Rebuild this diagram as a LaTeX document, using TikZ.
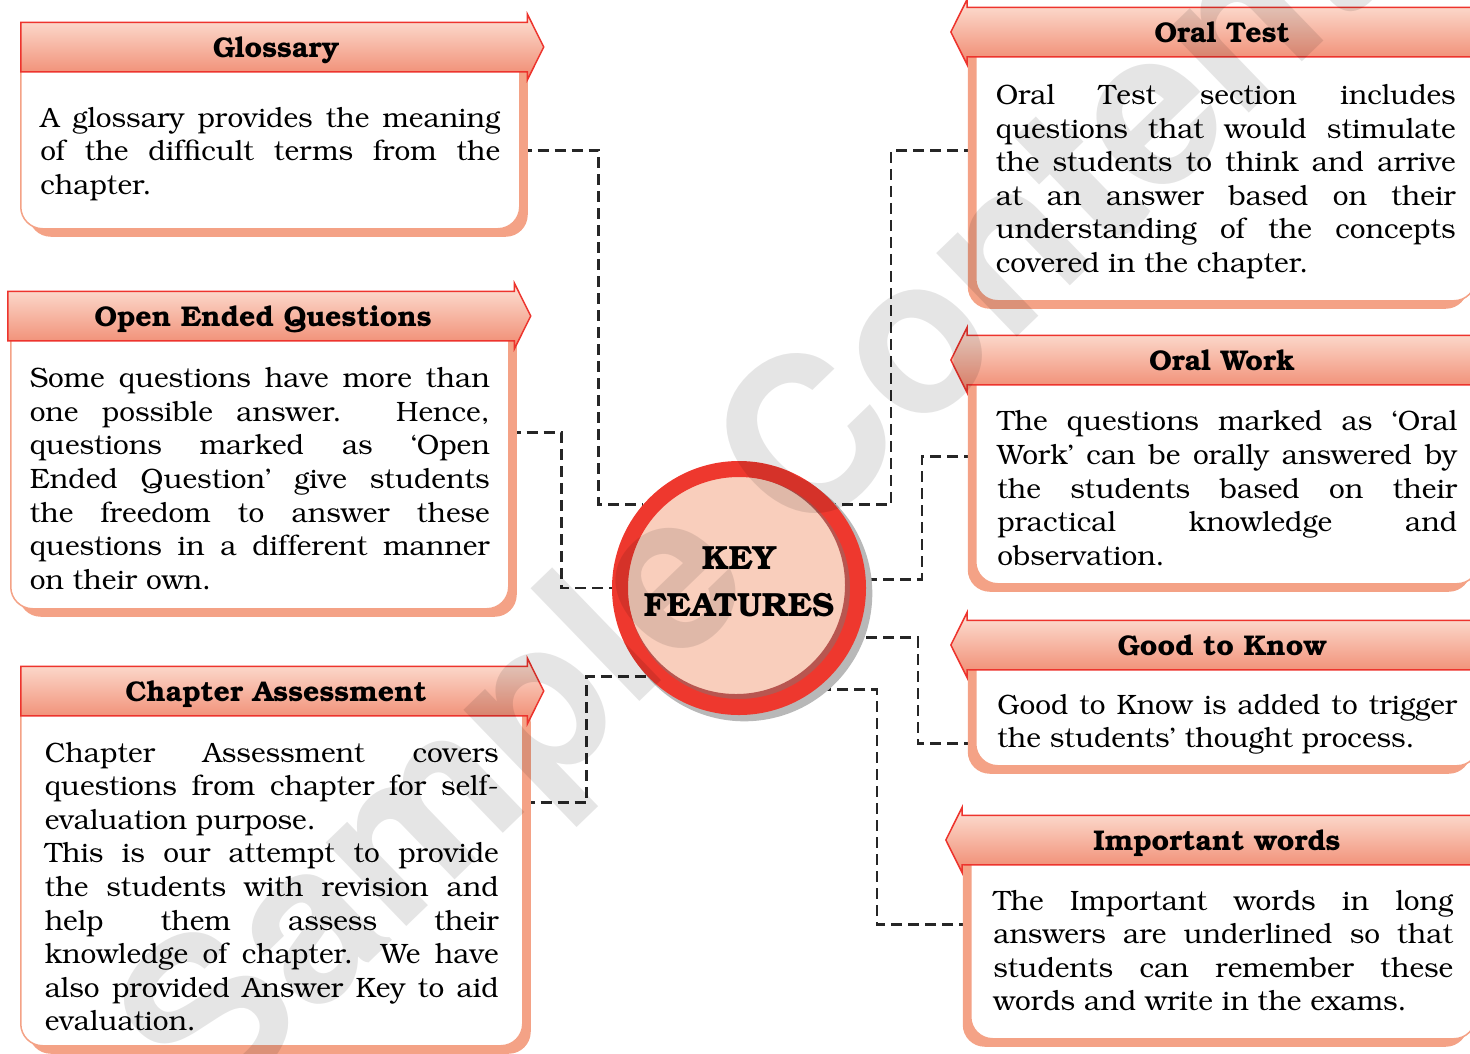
\documentclass[tikz,border=0pt]{standalone}
\usepackage[T1]{fontenc}
\usepackage{bookman}
\usetikzlibrary{shapes.arrows,shadows,backgrounds}

\definecolor{headTop}{RGB}{253,226,214}
\definecolor{headBot}{RGB}{240,136,110}
\definecolor{headRed}{RGB}{237,52,45}
\definecolor{bodyLine}{RGB}{244,162,134}
\definecolor{keyRed}{RGB}{238,56,46}
\definecolor{keyFill}{RGB}{249,206,188}
\definecolor{keyShade}{RGB}{184,86,80}

\newcommand{\BodyFont}{\fontsize{28}{33.6}\selectfont\tolerance=10000\hyphenpenalty=10000\relax}
\newcommand{\HeadFont}{\fontsize{28.5}{30}\selectfont\bfseries}
\newcommand{\KeyFont}{\fontsize{33.5}{47}\selectfont\bfseries}
\newcommand{\MarkFont}{\fontfamily{phv}\fontseries{b}\fontsize{215}{215}\selectfont}

\tikzstyle{RightHead}=[single arrow, single arrow head extend=8pt, single arrow tip angle=127, single arrow head indent=0pt, text height=23pt, text depth=2pt, inner xsep=0pt, inner ysep=11.5pt, minimum width=64pt, minimum height=523pt, draw=headRed, line width=1.5pt, top color=headTop, bottom color=headBot, font=\HeadFont]
\tikzstyle{LeftHead}=[RightHead, shape border rotate=180, minimum height=530pt]
\tikzstyle{BodyBox}=[rectangle, rounded corners=22pt, draw=bodyLine, line width=1.5pt, fill=white, anchor=north west, text width=460pt, align=justify, font=\BodyFont, inner sep=0pt]
\tikzstyle{LeftBody}=[BodyBox, drop shadow={shadow xshift=8pt, shadow yshift=-8pt, fill=bodyLine, opacity=1}]
\tikzstyle{RightBody}=[BodyBox, drop shadow={shadow xshift=-8pt, shadow yshift=-8pt, fill=bodyLine, opacity=1}]
\tikzstyle{KeyNode}=[circle, minimum size=238pt, inner sep=0pt, line width=16pt, draw=keyRed, fill=keyFill, font=\KeyFont, align=center, drop shadow={shadow xshift=5pt, shadow yshift=-5pt, shadow scale=1.075, fill=black!28, opacity=1}, path picture={\draw[keyShade, line width=20pt] ([xshift=-3pt, yshift=3pt]path picture bounding box.center) circle (119pt);}]
\tikzstyle{Link}=[dash pattern=on 11pt off 6pt, line width=2.8pt, black!85]
\tikzstyle{Watermark}=[font=\MarkFont, text=black, text opacity=0.1, rotate=44, inner sep=0pt]

\begin{document}
\begin{tikzpicture}[x=1pt, y=-1pt]
\useasboundingbox (0,0) rectangle (1470,1053);

\node[LeftBody, minimum width=499pt, minimum height=181pt] (glossBody) at (20,47) {\par\vspace*{18pt}A glossary provides the meaning\linebreak of the difficult terms from the\linebreak chapter.};
\node[RightHead, anchor=tail] (glossHead) at (20,47) {Glossary};

\node[LeftBody, minimum width=498pt, minimum height=292pt] (openBody) at (10,316) {\par\vspace*{18pt}Some questions have more than\linebreak one possible answer. Hence,\linebreak questions marked as `Open\linebreak Ended Question' give students\linebreak the freedom to answer these\linebreak questions in a different manner\linebreak on their own.};
\node[RightHead, anchor=tail] (openHead) at (7,316) {Open Ended Questions};

\node[LeftBody, minimum width=502pt, minimum height=354pt, text width=454pt] (chapBody) at (20,691) {\par\vspace*{22pt}Chapter Assessment covers\linebreak questions from chapter for self-\linebreak evaluation purpose.\\This is our attempt to provide\linebreak the students with revision and\linebreak help them assess their\linebreak knowledge of chapter. We have\linebreak also provided Answer Key to aid\linebreak evaluation.};
\node[RightHead, anchor=tail] (chapHead) at (20,691) {Chapter Assessment};

%%%%%%%%%%%%%%%%%%%%%%%%%%%%%%%%%%%%%%%%%

\node[RightBody, minimum width=500pt, minimum height=268pt] (testBody) at (975,32) {\par\vspace*{16pt}Oral Test section includes\linebreak questions that would stimulate\linebreak the students to think and arrive\linebreak at an answer based on their\linebreak understanding of the concepts\linebreak covered in the chapter.};
\node[LeftHead, anchor=tip] (testHead) at (950,32) {Oral Test};

\node[RightBody, minimum width=503pt, minimum height=223pt] (workBody) at (975,360) {\par\vspace*{18pt}The questions marked as `Oral\linebreak Work' can be orally answered by\linebreak the students based on their\linebreak practical knowledge and\linebreak observation.};
\node[LeftHead, anchor=tip] (workHead) at (950,360) {Oral Work};

\node[RightBody, minimum width=503pt, minimum height=120pt] (knowBody) at (975,645) {\par\vspace*{24pt}Good to Know is added to trigger\linebreak the students' thought process.};
\node[LeftHead, anchor=tip] (knowHead) at (950,645) {Good to Know};

\node[RightBody, minimum width=505pt, minimum height=198pt] (wordBody) at (970,840) {\par\vspace*{8pt}The Important words in long\linebreak answers are underlined so that\linebreak students can remember these\linebreak words and write in the exams.};
\node[LeftHead, anchor=tip] (wordHead) at (945,840) {Important words};

%%%%%%%%%%%%%%%%%%%%%%%%%%%%%%%%%%%%%%%%%

\node[KeyNode] (key) at (739,588) {KEY\\FEATURES\rule[-13pt]{0pt}{0pt}};

\begin{scope}[on background layer]
\draw[Link] ([yshift=-12pt]glossBody.east) -- ++(78,0) |- (key.139);
\draw[Link] ([yshift=30pt]openBody.east) -- ++(52,0) |- (key.west);
\draw[Link] ([yshift=66pt]chapBody.east) -- ++(63,0) |- (key.224);
\draw[Link] ([yshift=16pt]testBody.west) -- ++(-84,0) |- (key.41);
\draw[Link] ([yshift=16pt]workBody.west) -- ++(-53,0) |- (key.4);
\draw[Link] ([yshift=-38pt]knowBody.west) -- ++(-57,0) |- (key.337);
\draw[Link] ([yshift=15pt]wordBody.west) -- ++(-93,0) |- (key.307);
\end{scope}

\node[Watermark] (mark) at (758,509) {Sample Content};
\end{tikzpicture}
\end{document}
